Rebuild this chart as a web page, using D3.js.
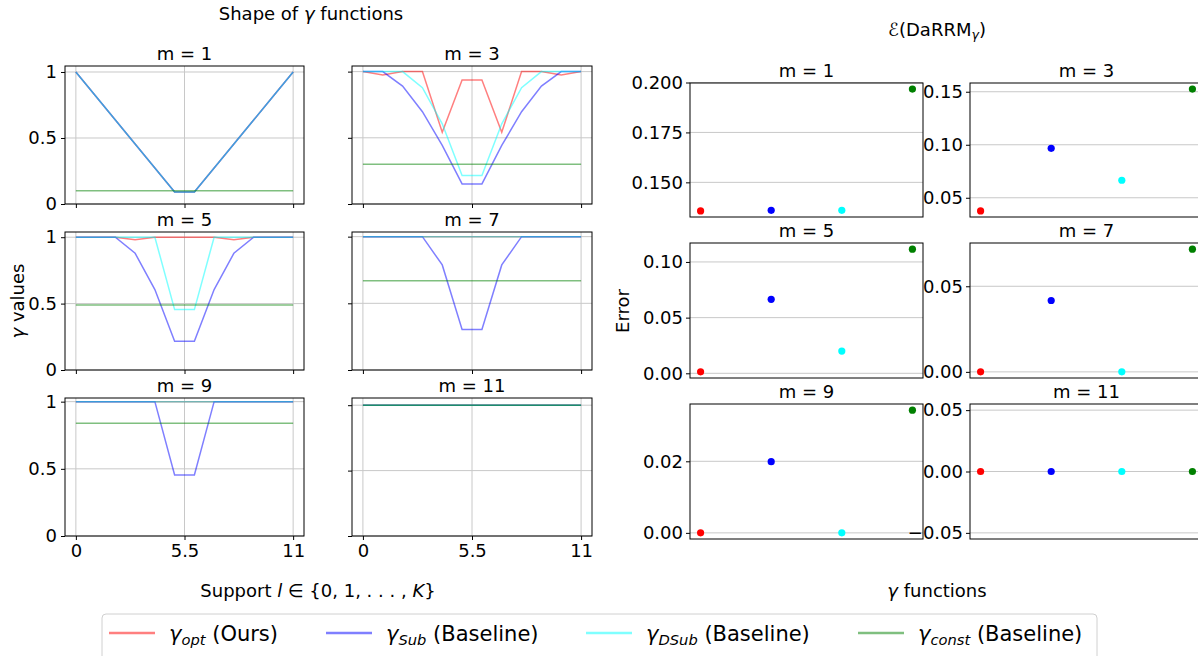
<!DOCTYPE html>
<html>
<head>
<meta charset="utf-8">
<script src="https://cdn.jsdelivr.net/npm/d3@7"></script>
<style>
  body { margin: 0; background: #fff; }
  svg { display: block; font-family: "DejaVu Sans", sans-serif; }
</style>
</head>
<body>
<div id="chart"></div>
<script>
// ---- data ----
const mValues = [1, 3, 5, 7, 9, 11];
const support = [0, 1, 2, 3, 4, 5, 6, 7, 8, 9, 10, 11];
const supportTicks = [0, 5.5, 11];
const gammaTicks = [0, 0.5, 1];

const gammaOpt = [
  [1, 0.818, 0.636, 0.455, 0.273, 0.091, 0.091, 0.273, 0.455, 0.636, 0.818, 1],
  [1, 0.975, 1, 1, 0.542, 0.937, 0.937, 0.542, 1, 1, 0.975, 1],
  [1, 1, 1, 0.98, 1, 1, 1, 1, 0.98, 1, 1, 1],
  [1, 1, 1, 1, 1, 1, 1, 1, 1, 1, 1, 1],
  [1, 1, 1, 1, 1, 1, 1, 1, 1, 1, 1, 1],
  [1, 1, 1, 1, 1, 1, 1, 1, 1, 1, 1, 1]
];
const gammaSub = [
  [1, 0.818, 0.636, 0.455, 0.273, 0.091, 0.091, 0.273, 0.455, 0.636, 0.818, 1],
  [1, 1, 0.891, 0.697, 0.442, 0.152, 0.152, 0.442, 0.697, 0.891, 1, 1],
  [1, 1, 1, 0.879, 0.606, 0.216, 0.216, 0.606, 0.879, 1, 1, 1],
  [1, 1, 1, 1, 0.788, 0.303, 0.303, 0.788, 1, 1, 1, 1],
  [1, 1, 1, 1, 1, 0.455, 0.455, 1, 1, 1, 1, 1],
  [1, 1, 1, 1, 1, 1, 1, 1, 1, 1, 1, 1]
];
const gammaDSub = [
  [1, 0.818, 0.636, 0.455, 0.273, 0.091, 0.091, 0.273, 0.455, 0.636, 0.818, 1],
  [1, 1, 1, 0.879, 0.606, 0.216, 0.216, 0.606, 0.879, 1, 1, 1],
  [1, 1, 1, 1, 1, 0.455, 0.455, 1, 1, 1, 1, 1],
  [1, 1, 1, 1, 1, 1, 1, 1, 1, 1, 1, 1],
  [1, 1, 1, 1, 1, 1, 1, 1, 1, 1, 1, 1],
  [1, 1, 1, 1, 1, 1, 1, 1, 1, 1, 1, 1]
];
const gammaConst = [0.1, 0.3, 0.49, 0.67, 0.84, 1.0];

// error of DaRRM per gamma function: [opt, Sub, DSub, const]
const errOpt   = [0.1357, 0.0376, 0.0013, 0.0, 0.0, 0.0];
const errSub   = [0.1360, 0.0966, 0.0664, 0.0417, 0.0199, 0.0];
const errDSub  = [0.1360, 0.0665, 0.0200, 0.0, 0.0, 0.0];
const errConst = [0.1967, 0.1525, 0.1115, 0.0717, 0.0343, 0.0];
const errTicks = [
  [0.150, 0.175, 0.200],
  [0.05, 0.10, 0.15],
  [0.00, 0.05, 0.10],
  [0.00, 0.05],
  [0.00, 0.02],
  [-0.05, 0.00, 0.05]
];

const seriesNames = ["opt", "Sub", "DSub", "const"];
const seriesLabels = ["(Ours)", "(Baseline)", "(Baseline)", "(Baseline)"];
const colors = ["red", "blue", "cyan", "green"];

// ---- layout ----
const width = 1198, height = 656;
const fontSize = 18;
const leftCols = [[65, 304], [352, 592]];
const leftRows = [[66, 204], [232, 370], [398, 536]];
const rightCols = [[690, 923], [970, 1203]];
const rightRows = [[83, 217], [243, 378], [404, 539]];
const gridColor = "#c8c8c8";

const svg = d3.select("#chart").append("svg")
  .attr("width", width)
  .attr("height", height);

// matplotlib style autoscale: 5% margins, expand when flat
function autoLimits(values) {
  let lo = d3.min(values), hi = d3.max(values);
  if (hi - lo < 1e-12) {
    if (hi === 0) { lo = -0.05; hi = 0.05; }
    else { lo = lo - 0.05 * Math.abs(lo); hi = hi + 0.05 * Math.abs(hi); }
  }
  const pad = 0.05 * (hi - lo);
  return [lo - pad, hi + pad];
}

function styleAxis(g) {
  g.select(".domain").remove();
  g.selectAll(".tick line").attr("stroke", "#000").attr("stroke-width", 1);
  g.selectAll(".tick text").attr("fill", "#000").style("font-size", fontSize + "px")
    .style("font-family", "DejaVu Sans, sans-serif");
}

function panelTitle(x0, x1, top, m) {
  svg.append("text")
    .attr("x", (x0 + x1) / 2)
    .attr("y", top - 6)
    .attr("text-anchor", "middle")
    .style("font-size", fontSize + "px")
    .text(`m = ${m}`);
}

// ---- left: shape of gamma functions ----
mValues.forEach((m, i) => {
  const col = i % 2, row = Math.floor(i / 2);
  const [x0, x1] = leftCols[col];
  const [y0, y1] = leftRows[row];
  const series = [gammaOpt[i], gammaSub[i], gammaDSub[i], support.map(() => gammaConst[i])];

  const xLim = autoLimits(support);
  const yLim = autoLimits(series.flat());
  const x = d3.scaleLinear().domain(xLim).range([x0, x1]);
  const y = d3.scaleLinear().domain([0, yLim[1]]).range([y1, y0]);

  const g = svg.append("g");

  // grid
  g.selectAll(".vgrid").data(supportTicks).join("line")
    .attr("x1", d => x(d)).attr("x2", d => x(d))
    .attr("y1", y0).attr("y2", y1)
    .attr("stroke", gridColor).attr("stroke-width", 1);
  g.selectAll(".hgrid").data(gammaTicks).join("line")
    .attr("x1", x0).attr("x2", x1)
    .attr("y1", d => y(d)).attr("y2", d => y(d))
    .attr("stroke", gridColor).attr("stroke-width", 1);

  const line = d3.line().x((d, j) => x(support[j])).y(d => y(d));
  series.forEach((s, k) => {
    g.append("path")
      .datum(s)
      .attr("d", line)
      .attr("fill", "none")
      .attr("stroke", colors[k])
      .attr("stroke-opacity", 0.5)
      .attr("stroke-width", 1.5);
  });

  g.append("g")
    .attr("transform", `translate(${x0},0)`)
    .call(d3.axisLeft(y).tickValues(gammaTicks).tickSize(4).tickPadding(4)
      .tickFormat(col === 0 ? d3.format("~g") : () => ""))
    .call(styleAxis);
  g.append("g")
    .attr("transform", `translate(0,${y1})`)
    .call(d3.axisBottom(x).tickValues(supportTicks).tickSize(4).tickPadding(4)
      .tickFormat(row === 2 ? d3.format("~g") : () => ""))
    .call(styleAxis);

  g.append("rect")
    .attr("x", x0).attr("y", y0)
    .attr("width", x1 - x0).attr("height", y1 - y0)
    .attr("fill", "none").attr("stroke", "#000").attr("stroke-width", 1);

  panelTitle(x0, x1, y0, m);
});

// ---- right: error of DaRRM ----
mValues.forEach((m, i) => {
  const col = i % 2, row = Math.floor(i / 2);
  const [x0, x1] = rightCols[col];
  const [y0, y1] = rightRows[row];
  const vals = [errOpt[i], errSub[i], errDSub[i], errConst[i]];

  const x = d3.scaleLinear().domain(autoLimits([0, 3])).range([x0, x1]);
  const y = d3.scaleLinear().domain(autoLimits(vals)).range([y1, y0]);
  const ticks = errTicks[i];
  const fmt = i === 0 ? d3.format(".3f") : d3.format(".2f");

  const g = svg.append("g");

  g.selectAll(".hgrid").data(ticks).join("line")
    .attr("x1", x0).attr("x2", x1)
    .attr("y1", d => y(d)).attr("y2", d => y(d))
    .attr("stroke", gridColor).attr("stroke-width", 1);

  g.selectAll("circle").data(vals).join("circle")
    .attr("cx", (d, k) => x(k))
    .attr("cy", d => y(d))
    .attr("r", 3.6)
    .attr("fill", (d, k) => colors[k]);

  g.append("g")
    .attr("transform", `translate(${x0},0)`)
    .call(d3.axisLeft(y).tickValues(ticks).tickSize(4).tickPadding(3).tickFormat(fmt))
    .call(styleAxis);

  g.append("rect")
    .attr("x", x0).attr("y", y0)
    .attr("width", x1 - x0).attr("height", y1 - y0)
    .attr("fill", "none").attr("stroke", "#000").attr("stroke-width", 1);

  panelTitle(x0, x1, y0, m);
});

// ---- titles and axis labels ----
// gamma with optional italic subscript, then trailing text back on the baseline
function gammaText(sel, before, sub, after) {
  if (before) sel.append("tspan").text(before);
  sel.append("tspan").style("font-style", "italic").text("γ");
  if (sub) {
    sel.append("tspan").attr("dy", "0.25em").style("font-size", "0.7em")
      .style("font-style", "italic").text(sub);
  }
  if (after) {
    const t = sel.append("tspan").text(after);
    if (sub) t.attr("dy", "-0.175em");
  }
}

gammaText(svg.append("text").attr("x", 311).attr("y", 20).attr("text-anchor", "middle")
  .style("font-size", fontSize + "px"), "Shape of ", null, " functions");

const eTitle = svg.append("text").attr("x", 937).attr("y", 36).attr("text-anchor", "middle")
  .style("font-size", fontSize + "px");
eTitle.append("tspan").text("ℰ(DaRRM");
eTitle.append("tspan").attr("dy", "0.25em").style("font-size", "0.7em")
  .style("font-style", "italic").text("γ");
eTitle.append("tspan").attr("dy", "-0.175em").text(")");

gammaText(svg.append("text").attr("transform", "translate(24,301) rotate(-90)")
  .attr("text-anchor", "middle").style("font-size", fontSize + "px"), null, null, " values");

svg.append("text").attr("transform", "translate(629,311) rotate(-90)")
  .attr("text-anchor", "middle").style("font-size", fontSize + "px").text("Error");

const sLabel = svg.append("text").attr("x", 318).attr("y", 597).attr("text-anchor", "middle")
  .style("font-size", fontSize + "px");
sLabel.append("tspan").text("Support ");
sLabel.append("tspan").style("font-style", "italic").text("l");
sLabel.append("tspan").text(" ∈ {0, 1, . . . , ");
sLabel.append("tspan").style("font-style", "italic").text("K");
sLabel.append("tspan").text("}");

gammaText(svg.append("text").attr("x", 937).attr("y", 597).attr("text-anchor", "middle")
  .style("font-size", fontSize + "px"), null, null, " functions");

// ---- legend ----
const legend = svg.append("g");
legend.append("rect")
  .attr("x", 102).attr("y", 614).attr("width", 995).attr("height", 46)
  .attr("rx", 4)
  .attr("fill", "#fff").attr("stroke", "#d0d0d0").attr("stroke-width", 1);
const legendX = [109, 326, 586, 858];
seriesNames.forEach((name, k) => {
  const lx = legendX[k];
  legend.append("line")
    .attr("x1", lx).attr("x2", lx + 46)
    .attr("y1", 633).attr("y2", 633)
    .attr("stroke", colors[k]).attr("stroke-opacity", 0.5).attr("stroke-width", 2.5);
  const t = legend.append("text")
    .attr("x", lx + 60).attr("y", 641)
    .style("font-size", "21px");
  gammaText(t, null, name, " " + seriesLabels[k]);
});
</script>
</body>
</html>
